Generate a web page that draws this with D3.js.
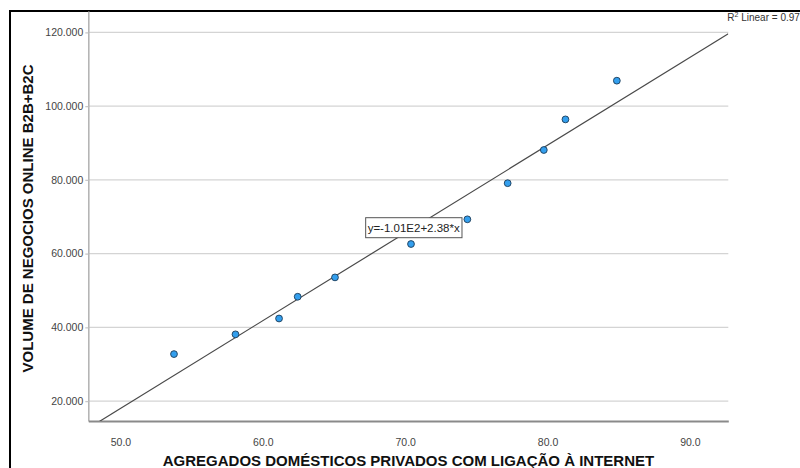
<!DOCTYPE html>
<html>
<head>
<meta charset="utf-8">
<script src="https://cdn.jsdelivr.net/npm/d3@7"></script>
<style>
  html, body { margin: 0; padding: 0; background: #fff; overflow: hidden; }
  svg { display: block; font-family: Arial, "Liberation Sans", sans-serif; }
</style>
</head>
<body>
<svg id="chart" width="800" height="468"></svg>
<script>
// Households with internet access (%) vs. online business volume (B2B+B2C)
const internetShare = [53.76, 58.08, 61.14, 62.45, 65.07, 70.41, 74.37, 77.2, 79.74, 81.26, 84.87];
const onlineVolume  = [32.75, 38.1, 42.4, 48.3, 53.55, 62.6, 69.3, 79.1, 88.1, 96.4, 106.9];

const xTicks = [50, 60, 70, 80, 90];
const yTicks = [20, 40, 60, 80, 100, 120];

// Linear fit reported for the data
const fitIntercept = -101;
const fitSlope = 2.38;
const fitLabel = "y=-1.01E2+2.38*x";
const fitLabelAt = 70.6;
const r2Text = "0.97";

const xTitle = "AGREGADOS DOMÉSTICOS PRIVADOS COM LIGAÇÃO À INTERNET";
const yTitle = "VOLUME DE NEGOCIOS ONLINE B2B+B2C";

const svg = d3.select("#chart");

const plot = { left: 88.3, right: 728.3, top: 11, bottom: 421 };

const x = d3.scaleLinear().domain([47.74, 92.7]).range([plot.left, plot.right]);
const y = d3.scaleLinear().domain([14.6, 125.8]).range([plot.bottom, plot.top]);

// Outer frame
svg.append("rect")
  .attr("x", 10).attr("y", 11)
  .attr("width", 820).attr("height", 480)
  .attr("fill", "none").attr("stroke", "#000").attr("stroke-width", 2);

// Horizontal gridlines
svg.append("g").selectAll("line").data(yTicks).join("line")
  .attr("x1", plot.left).attr("x2", plot.right)
  .attr("y1", d => y(d)).attr("y2", d => y(d))
  .attr("stroke", "#d4d4d4").attr("stroke-width", 1.3);

// Y axis
const yAxis = svg.append("g")
  .attr("transform", `translate(${plot.left},0)`)
  .call(d3.axisLeft(y).tickValues(yTicks).tickFormat(d3.format(".3f"))
    .tickSizeInner(3).tickSizeOuter(0).tickPadding(2));
yAxis.select(".domain").attr("stroke", "#b5b5b5").attr("stroke-width", 1.6);
yAxis.selectAll(".tick line").attr("stroke", "#c8c8c8").attr("stroke-width", 1.3);
yAxis.selectAll(".tick text").attr("fill", "#444").attr("font-size", "10.5px")
  .attr("font-family", "Arial, 'Liberation Sans', sans-serif");

// X axis
const xAxis = svg.append("g")
  .attr("transform", `translate(0,${plot.bottom})`)
  .call(d3.axisBottom(x).tickValues(xTicks).tickFormat(d3.format(".1f"))
    .tickSizeInner(0).tickSizeOuter(0).tickPadding(18));
xAxis.select(".domain").attr("stroke", "#8a8a8a").attr("stroke-width", 1.8);
xAxis.selectAll(".tick text").attr("fill", "#444").attr("font-size", "10.5px")
  .attr("font-family", "Arial, 'Liberation Sans', sans-serif");

// Fit line clipped to the plot area
svg.append("clipPath").attr("id", "plotClip")
  .append("rect")
  .attr("x", plot.left).attr("y", plot.top)
  .attr("width", plot.right - plot.left).attr("height", plot.bottom - plot.top);

const fit = v => fitIntercept + fitSlope * v;
const xd = x.domain();
svg.append("line")
  .attr("clip-path", "url(#plotClip)")
  .attr("x1", x(xd[0])).attr("y1", y(fit(xd[0])))
  .attr("x2", x(xd[1])).attr("y2", y(fit(xd[1])))
  .attr("stroke", "#4a4a4a").attr("stroke-width", 1.2);

// Data points
svg.append("g").selectAll("circle").data(internetShare.map((v, i) => [v, onlineVolume[i]]))
  .join("circle")
  .attr("cx", d => x(d[0])).attr("cy", d => y(d[1]))
  .attr("r", 3.4)
  .attr("fill", "#339fee").attr("stroke", "#1d3c58").attr("stroke-width", 0.9);

// Equation label on the fit line
const lx = x(fitLabelAt), ly = y(fit(fitLabelAt));
const eqG = svg.append("g");
const eqText = eqG.append("text")
  .attr("x", lx).attr("y", ly)
  .attr("text-anchor", "middle").attr("dominant-baseline", "central")
  .attr("font-size", "11.5px").attr("fill", "#222")
  .text(fitLabel);
const bb = eqText.node().getBBox();
eqG.insert("rect", "text")
  .attr("x", bb.x - 2).attr("y", ly - 10)
  .attr("width", bb.width + 4).attr("height", 20)
  .attr("fill", "#fff").attr("stroke", "#555").attr("stroke-width", 1);

// R² annotation
const r2 = svg.append("text")
  .attr("x", plot.right - 1).attr("y", 21)
  .attr("font-size", "10px").attr("fill", "#333");
r2.append("tspan").text("R");
r2.append("tspan").attr("font-size", "7px").attr("dy", -4).text("2");
r2.append("tspan").attr("dy", 4).text(" Linear = " + r2Text);

// Axis titles
svg.append("text")
  .attr("x", 408.5).attr("y", 466)
  .attr("text-anchor", "middle")
  .attr("font-size", "15px").attr("font-weight", "bold").attr("fill", "#111")
  .text(xTitle);

svg.append("text")
  .attr("transform", "translate(33,218.5) rotate(-90)")
  .attr("text-anchor", "middle")
  .attr("font-size", "15px").attr("font-weight", "bold").attr("fill", "#111")
  .text(yTitle);
</script>
</body>
</html>
